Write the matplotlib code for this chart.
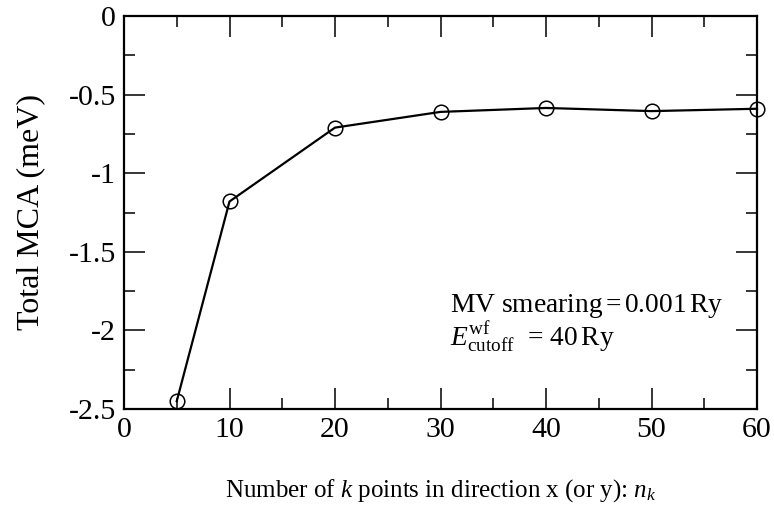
import matplotlib
matplotlib.use("Agg")
from matplotlib import pyplot as plt
from matplotlib.ticker import MultipleLocator

# data
nk = [5, 10, 20, 30, 40, 50, 60]
mca = [-2.45, -1.18, -0.71, -0.61, -0.585, -0.605, -0.59]

plt.rcParams['font.family'] = ['Liberation Serif', 'DejaVu Serif']
plt.rcParams['mathtext.fontset'] = 'custom'
plt.rcParams['mathtext.rm'] = 'Liberation Serif'
plt.rcParams['mathtext.it'] = 'Liberation Serif:italic'

fig = plt.figure(figsize=(7.74, 5.09), dpi=100)
ax = fig.add_axes([124 / 774, 1 - 409 / 509, 633 / 774, 393 / 509])

ax.plot(nk, mca, color='black', linewidth=1.6, marker='o', markersize=10.5,
        markerfacecolor='none', markeredgecolor='black', markeredgewidth=1.1,
        clip_on=False, zorder=3)

ax.set_xlim(0, 60)
ax.set_ylim(-2.5, 0)
ax.xaxis.set_minor_locator(MultipleLocator(5))
ax.yaxis.set_minor_locator(MultipleLocator(0.25))
ax.set_xticks(range(0, 61, 10))
ax.set_xticklabels([str(v) for v in range(0, 61, 10)])
ax.set_yticks([0, -0.5, -1, -1.5, -2, -2.5])
ax.set_yticklabels(['0', '-0.5', '-1', '-1.5', '-2', '-2.5'])

ax.tick_params(which='both', direction='in', top=True, right=True,
               labelsize=21.5, width=1.1, pad=6)
ax.tick_params(which='major', length=15)
ax.tick_params(which='minor', length=8)
for sp in ax.spines.values():
    sp.set_linewidth(1.6)

ax.set_xlabel(r'Number of $k$ points in direction x (or y): $n_k$', fontsize=18, labelpad=24)
ax.set_ylabel('Total MCA (meV)', fontsize=23, labelpad=17)

ax.text(30.9, -1.883, r'MV smearing$\,$=$\,$0.001$\,$Ry', fontsize=19.8, va='baseline', ha='left')
ax.text(30.9, -2.099, r'$E_{\mathrm{cutoff}}^{\mathrm{wf}}$  = 40$\,$Ry', fontsize=19.8, va='baseline', ha='left')

fig.savefig('out.png', dpi=100)
